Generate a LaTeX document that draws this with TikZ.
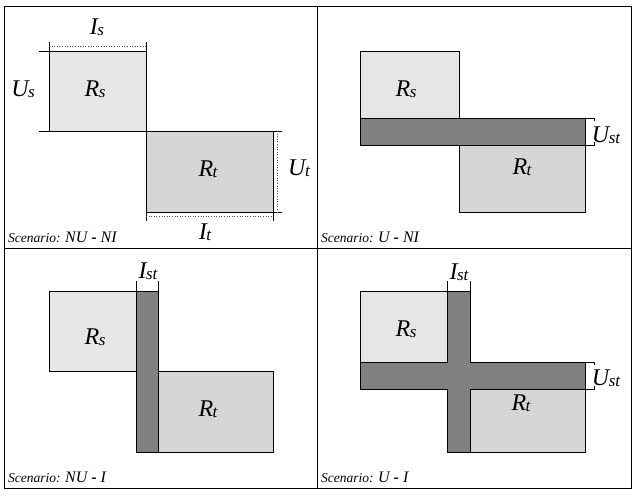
\documentclass[tikz,border=0pt]{standalone}
\usepackage{fontspec}
\setmainfont{Liberation Serif}
\newcommand{\lab}[2]{{\fontsize{24}{24}\selectfont\itshape #1\kern-0.5pt\raisebox{-1.5pt}{\fontsize{17}{17}\selectfont #2}}}
\newcommand{\scen}[1]{{\fontsize{13.5}{14}\selectfont\itshape Scenario: }{\fontsize{16}{16}\selectfont\itshape #1}}
\begin{document}
\begin{tikzpicture}[x=1pt,y=-1pt,
  light/.style={fill=srcfill,draw=black,line width=0.8pt},
  tgt/.style={fill=tgtfill,draw=black,line width=0.8pt},
  band/.style={fill=bandfill,draw=black,line width=0.8pt},
  frame/.style={draw=black,line width=0.9pt},
  dim/.style={draw=black,line width=0.6pt},
  dots/.style={draw=black!70,line width=0.6pt,dotted},
  txt/.style={inner sep=0pt}]
\definecolor{srcfill}{HTML}{E6E6E6}
\definecolor{tgtfill}{HTML}{D5D5D5}
\definecolor{bandfill}{HTML}{808080}
\useasboundingbox (0,0) rectangle (636,495);
\fill[white] (0,0) rectangle (636,495);
% frame
\draw[frame] (4,6) rectangle (631,488);
\draw[frame] (317,6) -- (317,488);
\draw[frame] (4,248) -- (631,248);

% ---------- Panel 1: NU - NI ----------
\draw[light] (49,51) rectangle (146,131);
\draw[tgt] (146,131) rectangle (273,212);
\draw[dim] (39,51) -- (146,51);
\draw[dim] (39,131) -- (282,131);
\draw[dim] (273,212) -- (282,212);
\draw[dim] (49,42) -- (49,51);
\draw[dim] (146,42) -- (146,51);
\draw[dots] (49,46) -- (146,46);
\draw[dim] (146,212) -- (146,221);
\draw[dim] (273,212) -- (273,221);
\draw[dots] (146,216) -- (273,216);
\draw[dots] (277,131) -- (277,212);
\node[txt] (is) at (97,27) {\lab{I}{s}};
\node[txt] (us) at (23,89) {\lab{U}{s}};
\node[txt] (rs1) at (95,89) {\lab{R}{s}};
\node[txt] (rt1) at (208,169) {\lab{R}{t}};
\node[txt] (ut) at (299,168) {\lab{U}{t}};
\node[txt] (it) at (205,232) {\lab{I}{t}};
\node[txt,anchor=base west] (sc1) at (8,242) {\scen{NU \textbf{\upshape -} NI}};

% ---------- Panel 2: U - NI ----------
\draw[light] (360,51) rectangle (459,118);
\draw[tgt] (459,145) rectangle (585,212);
\draw[band] (360,118) rectangle (585,145);
\draw[dim] (585,118) -- (594,118) -- (594,121);
\draw[dim] (585,145) -- (594,145) -- (594,142);
\node[txt] (rs2) at (406,89) {\lab{R}{s}};
\node[txt] (rt2) at (522,167) {\lab{R}{t}};
\node[txt] (ust1) at (606,135) {\lab{U}{st}};
\node[txt,anchor=base west] (sc2) at (321,242) {\scen{U \textbf{\upshape -} NI}};

% ---------- Panel 3: NU - I ----------
\draw[light] (49,291) rectangle (136,371);
\draw[tgt] (158,371) rectangle (273,452);
\draw[band] (136,291) rectangle (158,452);
\draw[dim] (136,281) -- (136,291);
\draw[dim] (158,281) -- (158,291);
\node[txt] (ist1) at (148,271) {\lab{I}{st}};
\node[txt] (rs3) at (95,337) {\lab{R}{s}};
\node[txt] (rt3) at (208,409) {\lab{R}{t}};
\node[txt,anchor=base west] (sc3) at (8,482) {\scen{NU \textbf{\upshape -} I}};

% ---------- Panel 4: U - I ----------
\draw[light] (360,291) rectangle (447,362);
\draw[tgt] (470,389) rectangle (585,452);
\fill[bandfill] (360,362) rectangle (585,389);
\fill[bandfill] (447,291) rectangle (470,452);
\draw[line width=0.8pt] (447,291) -- (470,291) -- (470,362) -- (585,362) -- (585,389) -- (470,389) -- (470,452) -- (447,452) -- (447,389) -- (360,389) -- (360,362) -- (447,362) -- cycle;
\draw[dim] (447,281) -- (447,291);
\draw[dim] (470,281) -- (470,291);
\draw[dim] (585,362) -- (594,362) -- (594,365);
\draw[dim] (585,389) -- (594,389) -- (594,386);
\node[txt] (ist2) at (459,272) {\lab{I}{st}};
\node[txt] (ust2) at (606,378) {\lab{U}{st}};
\node[txt] (rs4) at (406,329) {\lab{R}{s}};
\node[txt] (rt4) at (521,403) {\lab{R}{t}};
\node[txt,anchor=base west] (sc4) at (321,482) {\scen{U \textbf{\upshape -} I}};
\end{tikzpicture}
\end{document}
